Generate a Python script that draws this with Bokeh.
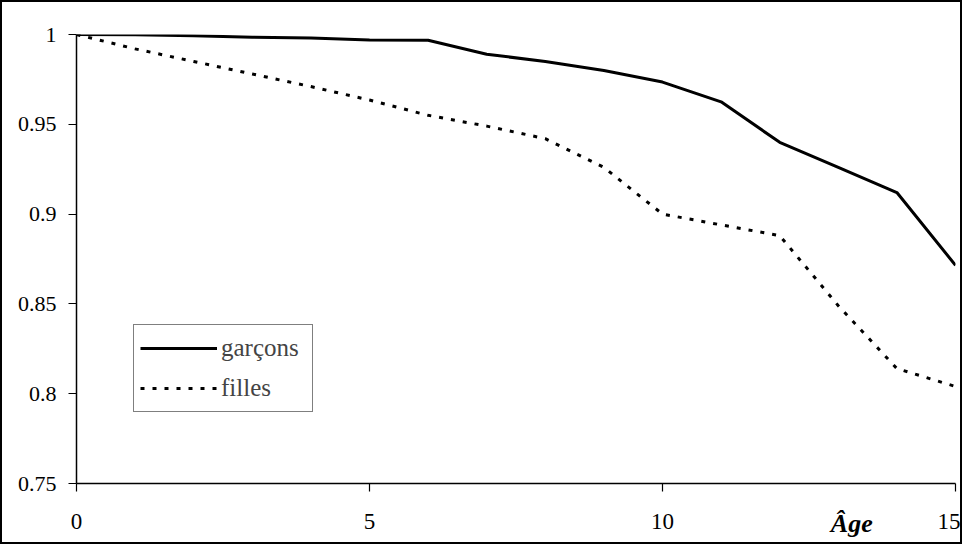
from bokeh.plotting import figure
from bokeh.models import FixedTicker, Legend, LegendItem, LinearAxis, Range1d
from bokeh.embed import file_html
from bokeh.resources import INLINE

ages = list(range(16))
garcons = [1.0, 0.9998, 0.9993, 0.9985, 0.998, 0.997, 0.9968, 0.989, 0.985,
           0.980, 0.9735, 0.9625, 0.940, 0.926, 0.912, 0.8715]
filles = [1.0, 0.992, 0.985, 0.978, 0.971, 0.9635, 0.955, 0.949, 0.942,
          0.926, 0.900, 0.894, 0.888, 0.849, 0.814, 0.804]
x_ticks = [0, 5, 10, 15]
y_ticks = [0.75, 0.8, 0.85, 0.9, 0.95, 1.0]
y_tick_labels = {0.75: "0.75", 0.8: "0.8", 0.85: "0.85", 0.9: "0.9", 0.95: "0.95", 1.0: "1"}
x_title_pos = 13.23
x_title = "Âge"

FONT = "Liberation Serif"

p = figure(width=962, height=544, output_backend="svg", toolbar_location=None,
           x_range=Range1d(0, 15), y_range=Range1d(0.75, 1.0),
           min_border_left=74, min_border_top=32, min_border_right=9, min_border_bottom=63)
p.styles = {"border": "2px solid black", "box-sizing": "border-box"}
p.outline_line_color = None
p.xgrid.grid_line_color = None
p.ygrid.grid_line_color = None

for ax in (p.xaxis[0], p.yaxis[0]):
    ax.axis_line_color = "black"
    ax.axis_line_width = 1.5
    ax.major_tick_line_color = "black"
    ax.major_tick_line_width = 1.2
    ax.major_tick_out = 8
    ax.major_tick_in = 0
    ax.minor_tick_line_color = None
    ax.major_label_text_font = FONT
    ax.major_label_text_color = "black"

p.xaxis.ticker = FixedTicker(ticks=x_ticks)
p.xaxis.major_label_text_font_size = "23px"
p.xaxis.major_label_standoff = 22
p.yaxis.ticker = FixedTicker(ticks=y_ticks)
p.yaxis.major_label_overrides = y_tick_labels
p.yaxis.major_label_text_font_size = "22px"
p.yaxis.major_label_standoff = 12

title_axis = LinearAxis(ticker=FixedTicker(ticks=[x_title_pos]),
                        major_label_overrides={x_title_pos: x_title},
                        axis_line_color=None, major_tick_line_color=None,
                        minor_tick_line_color=None, major_tick_out=0, major_tick_in=0,
                        major_label_standoff=-23,
                        major_label_text_font=FONT, major_label_text_font_size="26px",
                        major_label_text_font_style="bold italic",
                        major_label_text_color="black")
p.add_layout(title_axis, "below")

r1 = p.line(ages, garcons, line_color="black", line_width=3)
r2 = p.line(ages, filles, line_color="black", line_width=3, line_dash="4 8")

legend = Legend(items=[LegendItem(label="garçons", renderers=[r1]),
                       LegendItem(label="filles", renderers=[r2])],
                location=(57, 71), orientation="vertical",
                border_line_color="black", border_line_width=1.2,
                background_fill_alpha=1.0,
                label_text_font=FONT, label_text_font_size="25px",
                glyph_width=77, glyph_height=34, label_height=34,
                label_standoff=4, spacing=6, padding=6, margin=0,
                label_width=85)
p.add_layout(legend, "center")

open("out.html", "w").write(file_html(p, INLINE))
